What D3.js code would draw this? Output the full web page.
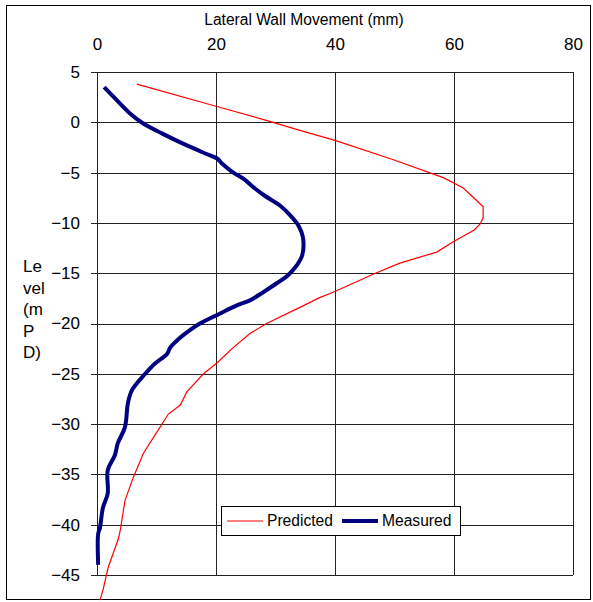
<!DOCTYPE html>
<html>
<head>
<meta charset="utf-8">
<script src="https://cdn.jsdelivr.net/npm/d3@7"></script>
<style>
  body { margin: 0; background: #fff; }
  text { font-family: "Liberation Sans", Arial, sans-serif; fill: #000; }
</style>
</head>
<body>
<div id="chart" style="width:593px;height:602px"></div>
<script>
// Lateral wall movement (mm) against level (mPD)
const predictedX = [6.7, 20, 29.6, 34.1, 40, 49.7, 58.2, 61.5, 63.5, 64.9, 64.9, 64.4, 63.4, 59.8, 57.1, 50.9, 46.4, 39.7, 37.5, 34.1, 28.5, 25.7, 22.7, 20.2, 17.9, 15.1, 14.0, 12.0, 10.6, 7.8, 6.1, 4.7, 3.9, 3.6, 1.9, 1.0, 0.5];
const predictedY = [3.8, 1.6, 0, -0.8, -1.8, -3.7, -5.5, -6.5, -7.6, -8.4, -9.5, -10.1, -10.7, -11.9, -12.9, -14.0, -15.1, -16.9, -17.4, -18.4, -20.0, -21.0, -22.5, -23.9, -25.0, -26.8, -28.1, -29.0, -30.3, -32.9, -35.3, -37.6, -40.6, -41.4, -44.2, -46.5, -47.5];

const measuredX = [1.2, 2.5, 5.5, 7.7, 10.9, 15.1, 18.2, 20.2, 21, 22.9, 24.6, 26.6, 28.2, 30.8, 32.4, 33.8, 34.6, 34.5, 33.6, 32.1, 30.2, 27.9, 25.7, 23.5, 20.7, 17.3, 15.5, 14.0, 12.3, 11.8, 9.7, 8.1, 5.9, 5.2, 4.7, 3.5, 3.0, 1.8, 1.8, 1.0, 0.5, 0.2, 0.2];
const measuredY = [3.5, 2.7, 0.9, -0.1, -1.1, -2.3, -3.1, -3.6, -4.1, -5.0, -5.6, -6.6, -7.3, -8.3, -9.2, -10.2, -11.4, -13.2, -14.2, -15.2, -16.0, -16.9, -17.7, -18.2, -19.0, -20.0, -20.7, -21.4, -22.4, -23.0, -24.0, -25.0, -26.6, -27.9, -30.3, -31.9, -33.1, -34.6, -36.9, -38.3, -40.3, -40.9, -44.0];

const xTicks = [0, 20, 40, 60, 80];
const yTicks = [5, 0, -5, -10, -15, -20, -25, -30, -35, -40, -45];
const yLabelLines = ["Le", "vel", "(m", "P", "D)"];
const seriesNames = ["Predicted", "Measured"];

const width = 593, height = 602;
const marginLeft = 97, marginTop = 72, plotRight = 573, plotBottom = 575;

const svg = d3.select("#chart").append("svg")
  .attr("width", width).attr("height", height);

// outer frame
svg.append("rect")
  .attr("x", 6.5).attr("y", 5.5).attr("width", 584).attr("height", 594)
  .attr("fill", "none").attr("stroke", "#000").attr("stroke-width", 1);

const x = d3.scaleLinear().domain([0, 80]).range([marginLeft, plotRight]);
const y = d3.scaleLinear().domain([-45, 5]).range([plotBottom, marginTop]);

// gridlines
svg.append("g").selectAll("line").data(yTicks).join("line")
  .attr("x1", marginLeft - 6).attr("x2", plotRight)
  .attr("y1", d => Math.round(y(d)) + 0.5).attr("y2", d => Math.round(y(d)) + 0.5)
  .attr("stroke", "#222").attr("stroke-width", 1);
svg.append("g").selectAll("line").data(xTicks).join("line")
  .attr("x1", d => Math.round(x(d)) + 0.5).attr("x2", d => Math.round(x(d)) + 0.5)
  .attr("y1", marginTop).attr("y2", plotBottom)
  .attr("stroke", "#222").attr("stroke-width", 1);

// axis labels
const xAxis = d3.axisTop(x).tickValues(xTicks).tickSize(0).tickPadding(0);
const gx = svg.append("g").attr("transform", "translate(0,50)").call(xAxis);
gx.select(".domain").remove();
gx.selectAll("text").attr("font-size", 17).attr("font-family", "Liberation Sans, Arial, sans-serif");

const yAxis = d3.axisLeft(y).tickValues(yTicks).tickSize(0).tickPadding(0);
const gy = svg.append("g").attr("transform", "translate(80,0)").call(yAxis);
gy.select(".domain").remove();
gy.selectAll("text").attr("font-size", 17).attr("font-family", "Liberation Sans, Arial, sans-serif");

svg.append("text")
  .attr("x", 304).attr("y", 25)
  .attr("text-anchor", "middle").attr("font-size", 15.6)
  .text("Lateral Wall Movement (mm)");

svg.append("g").selectAll("text").data(yLabelLines).join("text")
  .attr("x", 23).attr("y", (d, i) => 272 + i * 21.5)
  .attr("font-size", 17)
  .text(d => d);

// series
const line = d3.line().x(d => x(d[0])).y(d => y(d[1]));
const smooth = d3.line().x(d => x(d[0])).y(d => y(d[1])).curve(d3.curveCatmullRom.alpha(0.5));
const predicted = d3.zip(predictedX, predictedY);
const measured = d3.zip(measuredX, measuredY);

svg.append("path").datum(predicted)
  .attr("d", line).attr("fill", "none")
  .attr("stroke", "#ff0000").attr("stroke-width", 1.2);

svg.append("path").datum(measured)
  .attr("d", smooth).attr("fill", "none")
  .attr("stroke", "#000080").attr("stroke-width", 4)
  .attr("stroke-linejoin", "round");

// legend
const legend = svg.append("g").attr("transform", "translate(221,506)");
legend.append("rect")
  .attr("x", 0.5).attr("y", 0.5).attr("width", 239).attr("height", 29)
  .attr("fill", "#fff").attr("stroke", "#000");
const legendStyles = [{ c: "#ff0000", w: 1.2, x: 6 }, { c: "#000080", w: 4, x: 121 }];
seriesNames.forEach((name, i) => {
  const s = legendStyles[i];
  legend.append("line")
    .attr("x1", s.x).attr("x2", s.x + 36).attr("y1", 15).attr("y2", 15)
    .attr("stroke", s.c).attr("stroke-width", s.w);
  legend.append("text")
    .attr("x", s.x + 40).attr("y", 20).attr("font-size", 15.6)
    .text(name);
});
</script>
</body>
</html>
